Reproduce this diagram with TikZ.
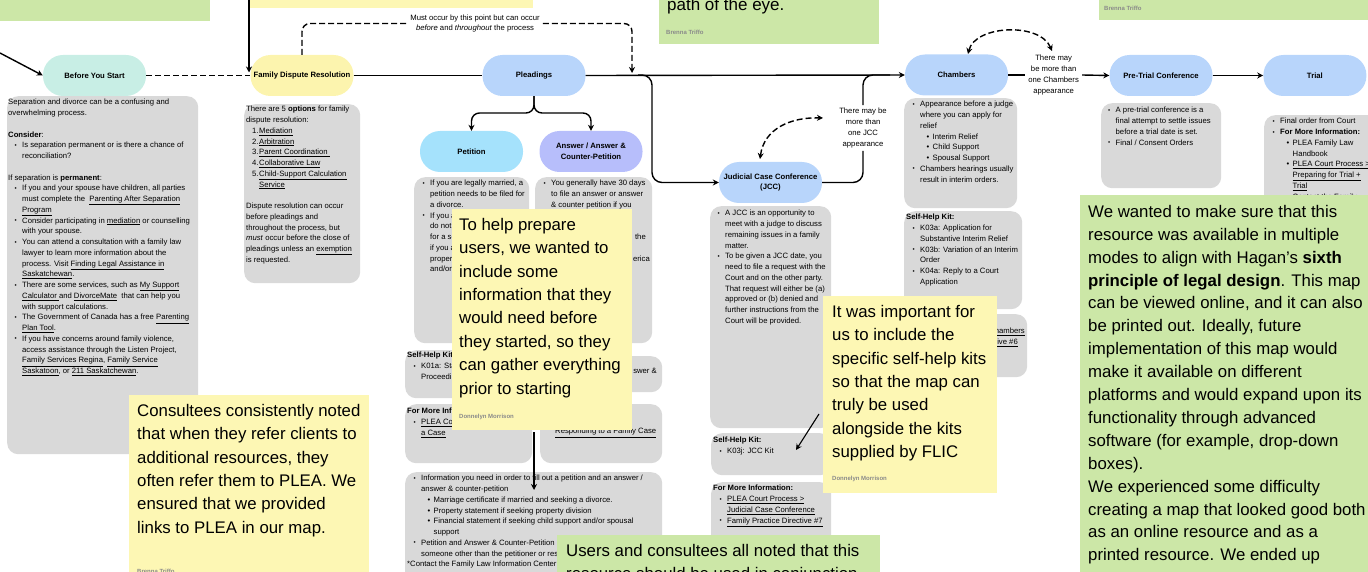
\documentclass[tikz,border=0pt]{standalone}
\usepackage{fontspec}
\setmainfont{Liberation Sans}
\usetikzlibrary{arrows.meta,positioning}

\definecolor{boxgray}{HTML}{D9D9D9}
\definecolor{startteal}{HTML}{C8EEE5}
\definecolor{fdryellow}{HTML}{FCF4AE}
\definecolor{stageblue}{HTML}{B8D5FB}
\definecolor{petcyan}{HTML}{A5E2FC}
\definecolor{anslav}{HTML}{B7BEFB}
\definecolor{noteyellow}{HTML}{FDF7B4}
\definecolor{notegreen}{HTML}{CCE7A7}
\definecolor{authorgray}{HTML}{8A8A8A}

\newcommand{\smalltext}{\fontsize{7.7}{10.75}\selectfont}
\newcommand{\bigtext}{\fontsize{16.8}{23.4}\selectfont}
\newcommand{\bitem}{\hspace*{6.5pt}\makebox[7.5pt][l]{\raisebox{0.4pt}{\scalebox{0.8}{\textbullet}}}}
\newcommand{\bcont}{\hspace*{14pt}}
\newcommand{\sitem}{\hspace*{20.5pt}\makebox[6pt][l]{\textbullet}}
\newcommand{\scont}{\hspace*{26.5pt}}
\newcommand{\nitem}[1]{\hspace*{6pt}\makebox[7pt][l]{#1}}
\newcommand{\lnk}[1]{\underline{#1}}

\begin{document}
\begin{tikzpicture}[x=1pt,y=-1pt,
	stage/.style={rounded corners=20pt,minimum width=103pt,minimum height=41pt,inner sep=2pt,align=center,font=\smalltext\bfseries},
	info/.style={fill=boxgray,rounded corners=11pt,anchor=north west,inner sep=0pt},
	infotext/.style={anchor=north west,inner sep=0pt,align=left,font=\smalltext},
	stickytext/.style={anchor=north west,inner sep=0pt,align=left,font=\bigtext},
	author/.style={anchor=west,inner sep=0pt,font=\fontsize{6}{7}\selectfont\bfseries,text=authorgray},
	note/.style={align=center,inner sep=3pt,font=\smalltext},
	wire/.style={line width=1.4pt},
	flow/.style={wire,-{Stealth[length=6pt,width=6pt]}},
	dashline/.style={wire,dash pattern=on 6pt off 3pt},
	dashflow/.style={dashline,-{Stealth[length=6pt,width=6pt]}},
	dashboth/.style={dashline,{Stealth[length=6pt,width=6pt]}-{Stealth[length=6pt,width=6pt]}}]
	\useasboundingbox (0,0) rectangle (1368,572);
	\clip (0,0) rectangle (1368,572);

	% notes cut off at the top
	\fill[notegreen] (-5,-5) rectangle (210,21);
	\fill[noteyellow] (250,-5) rectangle (533,8);
	\fill[notegreen] (659,-5) rectangle (879,44);
	\node[anchor=base west,inner sep=0pt,font=\fontsize{17}{20}\selectfont] (eye-text) at (667,11) {path of the eye.};
	\node[author] (eye-author) at (666,32) {Brenna Triffo};
	\fill[notegreen] (1099,-5) rectangle (1375,20);
	\node[author] (top-author) at (1104,8) {Brenna Triffo};

	% grey info boxes
	\node[info,minimum width=191pt,minimum height=358pt] (bys-box) at (7,96) {};
	\node[infotext] (bys-text) at (8,99) {Separation and divorce can be a confusing and\\
		overwhelming process.\\[10.75pt]
		\textbf{Consider}:\\
		\bitem Is separation permanent or is there a chance of\\
		\bcont reconciliation?\\[10.75pt]
		If separation is \textbf{permanent}:\\
		\bitem If you and your spouse have children, all parties\\
		\bcont must complete the \ \lnk{Parenting After Separation}\\
		\bcont \lnk{Program}\\
		\bitem Consider participating in \lnk{mediation} or counselling\\
		\bcont with your spouse.\\
		\bitem You can attend a consultation with a family law\\
		\bcont lawyer to learn more information about the\\
		\bcont process. Visit \lnk{Finding Legal Assistance in}\\
		\bcont \lnk{Saskatchewan}.\\
		\bitem There are some services, such as \lnk{My Support}\\
		\bcont \lnk{Calculator }and \lnk{DivorceMate} \ that can help you\\
		\bcont with support calculations.\\
		\bitem The Government of Canada has a free \lnk{Parenting}\\
		\bcont \lnk{Plan Tool}.\\
		\bitem If you have concerns around family violence,\\
		\bcont access assistance through the Listen Project,\\
		\bcont \lnk{Family Services Regina}, \lnk{Family Service}\\
		\bcont \lnk{Saskatoon}, or \lnk{211 Saskatchewan}.};

	\node[info,minimum width=116pt,minimum height=179pt] (fdr-box) at (244,104) {};
	\node[infotext] (fdr-text) at (246,106) {There are 5 \textbf{options} for family\\
		dispute resolution:\\
		\nitem{1.}\lnk{Mediation}\\
		\nitem{2.}\lnk{Arbitration}\\
		\nitem{3.}\lnk{Parent Coordination\ }\\
		\nitem{4.}\lnk{Collaborative Law}\\
		\nitem{5.}\lnk{Child-Support Calculation}\\
		\hspace*{13pt}\lnk{Service}\\[10.75pt]
		Dispute resolution can occur\\
		before pleadings and\\
		throughout the process, but\\
		\textit{must} occur before the close of\\
		pleadings unless an \lnk{exemption}\\
		is requested.};

	\node[info,minimum width=115pt,minimum height=166pt] (pet-box) at (414,177) {};
	\node[infotext] (pet-text) at (416,180) {\bitem If you are legally married, a\\
		\bcont petition needs to be filed for\\
		\bcont a divorce.\\
		\bitem If you a\\
		\bcont do not\\
		\bcont for a se\\
		\bcont if you a\\
		\bcont proper\\
		\bcont and/or};
	\node[info,minimum width=117pt,minimum height=166pt] (ans-box) at (535,177) {};
	\node[infotext] (ans-text) at (537,180) {\bitem You generally have 30 days\\
		\bcont to file an answer or answer\\
		\bcont \& counter petition if you};
	\node[infotext,anchor=north east] (ans-frag-a) at (646,234) {the};
	\node[infotext,anchor=north east] (ans-frag-b) at (650,256) {erica};

	\node[info,minimum width=127pt,minimum height=48pt] (pet-kit) at (405,350) {};
	\node[infotext] (pet-kit-text) at (407,352) {\textbf{Self-Help Kit}\\
		\bitem K01a: Sta\\
		\bcont Proceedi};
	\node[info,minimum width=122pt,minimum height=36pt] (ans-kit) at (540,356) {};
	\node[infotext,anchor=north east] (ans-kit-frag) at (657,368) {swer \&};

	\node[info,minimum width=127pt,minimum height=59pt] (pet-more) at (405,404) {};
	\node[infotext] (pet-more-text) at (407,408) {\textbf{For More Inf}\\
		\bitem \lnk{PLEA Co}\\
		\bcont \lnk{a Case}};
	\node[info,minimum width=122pt,minimum height=59pt] (ans-more) at (540,404) {};
	\node[infotext] (ans-more-text) at (555,428) {\lnk{Responding to a Family Case}};

	\node[info,minimum width=257pt,minimum height=120pt] (need-box) at (405,472) {};
	\node[infotext] (need-text) at (407,475) {\bitem Information you need in order to fill out a petition and an answer /\\
		\bcont answer \& counter-petition\\
		\sitem Marriage certificate if married and seeking a divorce.\\
		\sitem Property statement if seeking property division\\
		\sitem Financial statement if seeking child support and/or spousal\\
		\scont support\\
		\bitem Petition and Answer \& Counter-Petition\\
		\bcont someone other than the petitioner or res\\
		{*}Contact the Family Law Information Center};

	\node[info,minimum width=121pt,minimum height=222pt] (jcc-box) at (710,206) {};
	\node[infotext] (jcc-text) at (711,210) {\bitem A JCC is an opportunity to\\
		\bcont meet with a judge to discuss\\
		\bcont remaining issues in a family\\
		\bcont matter.\\
		\bitem To be given a JCC date, you\\
		\bcont need to file a request with the\\
		\bcont Court and on the other party.\\
		\bcont That request will either be (a)\\
		\bcont approved or (b) denied and\\
		\bcont further instructions from the\\
		\bcont Court will be provided.};
	\node[info,minimum width=120pt,minimum height=42pt] (jcc-kit) at (711,433) {};
	\node[infotext] (jcc-kit-text) at (713,437) {\textbf{Self-Help Kit:}\\
		\bitem K03j: JCC Kit};
	\node[info,minimum width=120pt,minimum height=70pt] (jcc-more) at (711,482) {};
	\node[infotext] (jcc-more-text) at (713,485) {\textbf{For More Information:}\\
		\bitem \lnk{PLEA Court Process >}\\
		\bcont \lnk{Judicial Case Conference}\\
		\bitem \lnk{Family Practice Directive \#7}};

	\node[info,minimum width=113pt,minimum height=110pt] (ch-box) at (904,98) {};
	\node[infotext] (ch-text) at (906,101) {\bitem Appearance before a judge\\
		\bcont where you can apply for\\
		\bcont relief\\
		\sitem Interim Relief\\
		\sitem Child Support\\
		\sitem Spousal Support\\
		\bitem Chambers hearings usually\\
		\bcont result in interim orders.};
	\node[info,minimum width=118pt,minimum height=98pt] (ch-kit) at (904,211) {};
	\node[infotext] (ch-kit-text) at (906,214) {\textbf{Self-Help Kit:}\\
		\bitem K03a: Application for\\
		\bcont Substantive Interim Relief\\
		\bitem K03b: Variation of an Interim\\
		\bcont Order\\
		\bitem K04a: Reply to a Court\\
		\bcont Application};
	\node[info,minimum width=123pt,minimum height=63pt] (ch-more) at (904,314) {};
	\node[infotext,anchor=north east] (ch-more-frag-a) at (1025,328) {\lnk{hambers}};
	\node[infotext,anchor=north east] (ch-more-frag-b) at (1018,339) {\lnk{ive \#6}};

	\node[info,minimum width=120pt,minimum height=85pt] (pt-box) at (1101,103) {};
	\node[infotext] (pt-text) at (1101.5,107) {\bitem A pre-trial conference is a\\
		\bcont final attempt to settle issues\\
		\bcont before a trial date is set.\\
		\bitem Final / Consent Orders};
	\node[info,minimum width=120pt,minimum height=130pt] (trial-box) at (1264,115) {};
	\node[infotext] (trial-text) at (1266,118) {\bitem Final order from Court\\
		\bitem \textbf{For More Information:}\\
		\sitem PLEA Family Law\\
		\scont Handbook\\
		\sitem \lnk{PLEA Court Process >}\\
		\scont \lnk{Preparing for Trial +}\\
		\scont \lnk{Trial}\\
		\sitem Contact the Family};

	% stages
	\node[stage,fill=startteal] (bys) at (94.5,75.5) {Before You Start};
	\node[stage,fill=fdryellow] (fdr) at (302,75.5) {Family Dispute Resolution};
	\node[stage,fill=stageblue] (plead) at (534,75.5) {Pleadings};
	\node[stage,fill=petcyan] (petition) at (471.5,151.5) {Petition};
	\node[stage,fill=anslav] (answer) at (591,151.5) {Answer / Answer \&\\Counter-Petition};
	\node[stage,fill=stageblue] (jcc) at (770.5,182.5) {Judicial Case Conference\\(JCC)};
	\node[stage,fill=stageblue] (chamb) at (956.5,75) {Chambers};
	\node[stage,fill=stageblue] (pretrial) at (1161,75.5) {Pre-Trial Conference};
	\node[stage,fill=stageblue,right=50.5pt of pretrial] (trial) {Trial};

	\node[note] (mustnote) at (475,23.5) {Must occur by this point but can occur\\\textit{before} and \textit{throughout} the process};
	\node[note] (jccnote) at (863,128) {There may be\\more than\\one JCC\\appearance};
	\node[note,right=17pt of chamb] (chnote) {There may\\be more than\\one Chambers\\appearance};

	% connectors
	\coordinate (bys-in) at (0,53);
	\coordinate (fdr-in) at (249,-5);
	\coordinate (fork) at (534,113);
	\coordinate (split) at (638,75);
	\coordinate (jcc-bend) at (652,0);
	\coordinate (merge) at (890,75);
	\coordinate (mustdrop) at (632,73);
	\coordinate (jcc-loop-a) at (760,159);
	\coordinate (jcc-loop-b) at (823,118);
	\coordinate (ch-loop-a) at (968,54);
	\coordinate (ch-loop-b) at (1052,51);

	\draw[flow] (bys-in) -- (bys.west);
	\draw[dashline] (bys.east) -- (fdr.west);
	\draw[flow,shorten >=3pt] (fdr-in) -- (fdr-in |- fdr.west);
	\draw[wire] (fdr.east) -- (plead.west);
	\draw[flow] (plead.east) -- (chamb.west);
	\draw[flow,rounded corners=8pt] (plead.south) -- (fork) -| (petition.north);
	\draw[flow,rounded corners=8pt] (plead.south) -- (fork) -| (answer.north);
	\draw[flow,rounded corners=10pt] (split) -| (jcc-bend |- jcc.west) -- (jcc.west);
	\draw[wire,rounded corners=10pt] (jcc.east) -| (jccnote.south);
	\draw[wire,rounded corners=10pt] (jccnote.north) |- (merge);
	\draw[dashline,rounded corners=8pt] (fdr.north) |- (mustnote.west);
	\draw[dashflow,rounded corners=8pt] (mustnote.east) -| (mustdrop);
	\draw[dashboth] (jcc-loop-a) .. controls (764,128) and (792,117) .. (jcc-loop-b);
	\draw[dashboth] (ch-loop-a) .. controls (975,25) and (1040,22) .. (ch-loop-b);
	\draw[wire] (chamb.east) -- (chnote.west);
	\draw[flow] (chnote.east) -- (pretrial.west);
	\draw[flow] (pretrial.east) -- (trial.west);

	% sticky notes
	\fill[noteyellow] (129,395) rectangle (369,580);
	\node[stickytext] (plea-note) at (137,404) {Consultees consistently noted\\
		that when they refer clients to\\
		additional resources, they\\
		often refer them to PLEA. We\\
		ensured that we provided\\
		links to PLEA in our map.};
	\node[author] (plea-author) at (137,571) {Brenna Triffo};

	\fill[noteyellow] (452,209) rectangle (632,430);
	\node[stickytext] (prep-note) at (459,218) {To help prepare\\
		users, we wanted to\\
		include some\\
		information that they\\
		would need before\\
		they started, so they\\
		can gather everything\\
		prior to starting};
	\node[author] (prep-author) at (459,417) {Donnelyn Morrison};

	\fill[noteyellow] (823,296) rectangle (997,493);
	\node[stickytext] (kit-note) at (832,305) {It was important for\\
		us to include the\\
		specific self-help kits\\
		so that the map can\\
		truly be used\\
		alongside the kits\\
		supplied by FLIC};
	\node[author] (kit-author) at (832,479) {Donnelyn Morrison};

	\fill[notegreen] (1080,195) rectangle (1375,580);
	\node[stickytext,font=\fontsize{16.8}{22.9}\selectfont] (mode-note) at (1088,205) {We wanted to make sure that this\\
		resource was available in multiple\\
		modes to align with Hagan’s \textbf{sixth}\\
		\textbf{principle of legal design}. This map\\
		can be viewed online, and it can also\\
		be printed out. Ideally, future\\
		implementation of this map would\\
		make it available on different\\
		platforms and would expand upon its\\
		functionality through advanced\\
		software (for example, drop-down\\
		boxes).\\
		We experienced some difficulty\\
		creating a map that looked good both\\
		as an online resource and as a\\
		printed resource. We ended up};

	\fill[notegreen] (557,535) rectangle (880,580);
	\node[stickytext] (use-note) at (566,544) {Users and consultees all noted that this\\
		resource should be used in conjunction};

	% arrows drawn from the notes
	\coordinate (prep-tail) at (534,432);
	\coordinate (prep-head) at (534,490);
	\coordinate (kit-tail) at (819,414);
	\coordinate (kit-head) at (796,450);
	\draw[flow,line width=1.1pt] (prep-tail) -- (prep-head);
	\draw[flow,line width=1.1pt] (kit-tail) -- (kit-head);
\end{tikzpicture}
\end{document}
